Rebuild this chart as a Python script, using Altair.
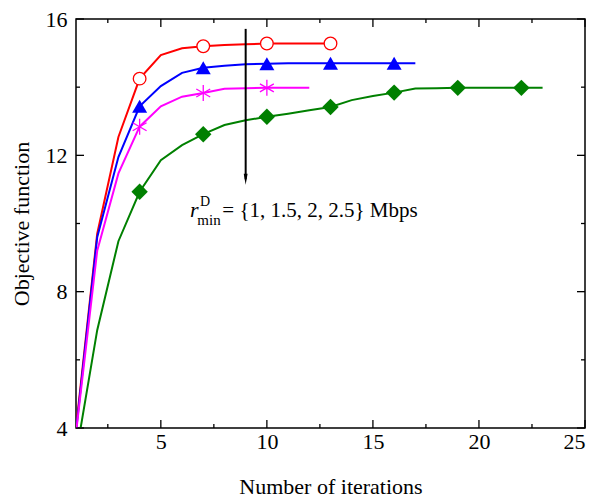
import altair as alt
import pandas as pd

# ---- data ----
red_x = list(range(1, 14))
red_y = [4.0, 9.7, 12.54, 14.25, 14.94, 15.14, 15.2, 15.24, 15.26, 15.28, 15.28, 15.28, 15.28]
blue_x = list(range(1, 18))
blue_y = [3.9, 9.6, 11.95, 13.44, 14.03, 14.42, 14.57, 14.63, 14.67, 14.69, 14.7, 14.7, 14.7,
          14.7, 14.7, 14.7, 14.7]
mag_x = list(range(1, 13))
mag_y = [3.85, 9.2, 11.47, 12.84, 13.44, 13.72, 13.83, 13.95, 13.97, 13.98, 13.98, 13.98]
green_x = list(range(1, 24))
green_y = [3.2, 6.87, 9.48, 10.93, 11.86, 12.3, 12.62, 12.89, 13.03, 13.13, 13.22, 13.32, 13.42,
           13.62, 13.74, 13.84, 13.96, 13.97, 13.98, 13.98, 13.98, 13.98, 13.98]
marker_iters = [4, 7, 10, 13, 16, 19, 22]

x_major = [5, 10, 15, 20, 25]
x_minor = [2.5, 7.5, 12.5, 17.5, 22.5]
y_major = [4, 8, 12, 16]
y_minor = [6, 10, 14]

FONT = "Liberation Serif"
W, H = 509, 409

xs = alt.Scale(domain=[1, 25], nice=False, zero=False)
ys = alt.Scale(domain=[4, 16], nice=False, zero=False)

xaxis = alt.Axis(values=x_major, ticks=False, tickSize=0, domain=False, grid=False,
                 labelFont=FONT, labelFontSize=22, labelColor="black", labelPadding=3,
                 title="Number of iterations", titleFont=FONT, titleFontSize=22,
                 titleFontWeight="normal", titleColor="black", titlePadding=24)
yaxis = alt.Axis(values=y_major, ticks=False, tickSize=0, domain=False, grid=False,
                 labelFont=FONT, labelFontSize=22, labelColor="black", labelPadding=9,
                 title="Objective function", titleFont=FONT, titleFontSize=22,
                 titleFontWeight="normal", titleColor="black", titlePadding=12)

X = alt.X("x:Q", scale=xs, axis=xaxis)
Y = alt.Y("y:Q", scale=ys, axis=yaxis)

series = [
    ("red", red_x, red_y, "#FF0000"),
    ("blue", blue_x, blue_y, "#0000FF"),
    ("mag", mag_x, mag_y, "#FF00FF"),
    ("green", green_x, green_y, "#008000"),
]

layers = []
for name, xv, yv, col in series:
    df = pd.DataFrame({"x": xv, "y": yv})
    layers.append(alt.Chart(df).mark_line(color=col, strokeWidth=2, clip=True).encode(x=X, y=Y))

def markers(xv, yv):
    return pd.DataFrame({"x": xv, "y": yv})[lambda d: d["x"].isin(marker_iters)]

layers.append(alt.Chart(markers(red_x, red_y)).mark_point(
    shape="circle", size=160, filled=True, fill="white", stroke="#FF0000", strokeWidth=1.3, opacity=1
).encode(x=X, y=Y))
layers.append(alt.Chart(markers(blue_x, blue_y)).mark_point(
    shape="triangle-up", size=225, filled=True, color="#0000FF", opacity=1
).encode(x=X, y=Y))
layers.append(alt.Chart(markers(mag_x, mag_y)).mark_point(
    shape="M0,-1L0,1M-0.87,-0.5L0.87,0.5M-0.87,0.5L0.87,-0.5", size=256, filled=False,
    color="#FF00FF", strokeWidth=1.3, opacity=1
).encode(x=X, y=Y))
layers.append(alt.Chart(markers(green_x, green_y)).mark_point(
    shape="diamond", size=270, filled=True, color="#008000", opacity=1
).encode(x=X, y=Y))

# ---- arrow annotation ----
arrow_x = [9]
arrow_top = [15.71]
arrow_bot = [11.3]
adf = pd.DataFrame({"x": arrow_x, "y": arrow_top, "y2": arrow_bot})
layers.append(alt.Chart(adf).mark_rule(color="black", strokeWidth=2).encode(
    x=X, y=Y, y2="y2:Q"))
layers.append(alt.Chart(pd.DataFrame({"x": arrow_x, "y": arrow_bot})).mark_point(
    shape="M-0.35,-1L0.35,-1L0,1Z", size=121, filled=True, color="black", opacity=1
).encode(x=X, y=Y))

# ---- text annotation ----
def txt(x, y, s, size, style="normal"):
    return alt.Chart(pd.DataFrame({"x": [x], "y": [y], "t": [s]})).mark_text(
        font=FONT, fontSize=size, fontStyle=style, align="left", baseline="alphabetic",
        color="black"
    ).encode(x=X, y=Y, text="t:N")

layers.append(txt(6.38, 10.19, "r", 22, "italic"))
layers.append(txt(6.85, 10.5, "D", 14))
layers.append(txt(6.72, 9.96, "min", 15))
layers.append(txt(7.9, 10.19, "= {1, 1.5, 2, 2.5} Mbps", 21))

# ---- inward ticks on all four sides ----
def xticks(vals, L):
    d = pd.DataFrame({"x": vals})
    b = alt.Chart(d).mark_rule(color="black", strokeWidth=1.3).encode(
        x=X, y=alt.value(H), y2=alt.value(H - L))
    t = alt.Chart(d).mark_rule(color="black", strokeWidth=1.3).encode(
        x=X, y=alt.value(0), y2=alt.value(L))
    return [b, t]

def yticks(vals, L):
    d = pd.DataFrame({"y": vals})
    l = alt.Chart(d).mark_rule(color="black", strokeWidth=1.3).encode(
        y=Y, x=alt.value(0), x2=alt.value(L))
    r = alt.Chart(d).mark_rule(color="black", strokeWidth=1.3).encode(
        y=Y, x=alt.value(W), x2=alt.value(W - L))
    return [l, r]

layers += xticks(x_major, 8) + xticks(x_minor, 4) + yticks(y_major, 8) + yticks(y_minor, 4)

chart = alt.layer(*layers).properties(
    width=W, height=H,
    autosize=alt.AutoSizeParams(type="none"),
    padding={"left": 68, "top": 11, "right": 5, "bottom": 72},
    background="white",
).configure_view(stroke="black", strokeWidth=1.5)

chart.save("out.html", embed_options={"renderer": "svg", "actions": False})
